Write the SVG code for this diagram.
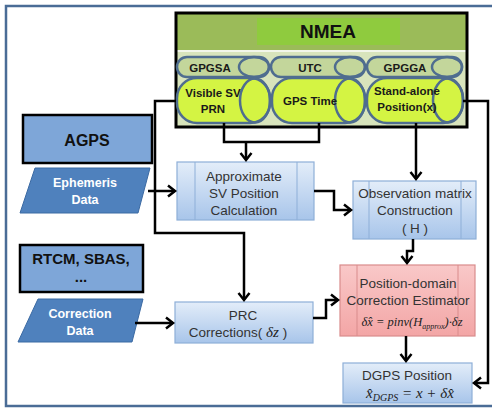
<svg xmlns="http://www.w3.org/2000/svg" width="492" height="408" viewBox="0 0 492 408">
<defs>
<linearGradient id="gBlue" x1="0" y1="0" x2="0" y2="1">
<stop offset="0" stop-color="#e3edf9"/><stop offset="1" stop-color="#a8c5ea"/>
</linearGradient>
<linearGradient id="gRed" x1="0" y1="0" x2="0" y2="1">
<stop offset="0" stop-color="#f9c8c8"/><stop offset="1" stop-color="#f3a6a6"/>
</linearGradient>
<marker id="arr" markerUnits="userSpaceOnUse" markerWidth="14" markerHeight="14" refX="9" refY="7" orient="auto">
<path d="M2,1.5 L9,7 L2,12.5" fill="none" stroke="#000" stroke-width="2.5"/>
</marker>
<style>
.frame{fill:#fff;stroke:#4a6c96;stroke-width:2.5}
.conn{fill:none;stroke:#000;stroke-width:2.5}
.sm{fill:#c3d69b;stroke:#4f6d8f;stroke-width:2.5}
.big{fill:#d4f443;stroke:#4f6d8f;stroke-width:2.5}
.ell{fill:none;stroke:#4f6d8f;stroke-width:2.5}
.pilltxt{font-family:"Liberation Sans",Arial,sans-serif;font-weight:bold;font-size:11.5px;fill:#1a1a1a;text-anchor:middle}
.blk{fill:#7ea6d8;stroke:#000;stroke-width:2.5}
.blktxt{font-family:"Liberation Sans",Arial,sans-serif;font-weight:bold;fill:#111;text-anchor:middle}
.para{fill:#4f81bd;stroke:#3b6aa3;stroke-width:1}
.paratxt{font-family:"Liberation Sans",Arial,sans-serif;font-weight:bold;font-size:12.5px;fill:#fff;text-anchor:middle}
.pbox{fill:url(#gBlue);stroke:#8eafd8;stroke-width:1.2}
.rbox{fill:url(#gRed);stroke:#d98c8c;stroke-width:1.2}
.inl{stroke:#8eafd8;stroke-width:1}
.inr{stroke:#d98c8c;stroke-width:1}
.ptxt{font-family:"Liberation Sans",Arial,sans-serif;font-size:13.5px;fill:#333;text-anchor:middle}
.math{font-family:"Liberation Serif","Times New Roman",serif;font-style:italic;fill:#222}
</style>
</defs>
<rect class="frame" x="6" y="6" width="496" height="400"/>

<g id="nmea">
<rect x="176" y="13" width="291" height="114" fill="#d8e4bc"/>
<rect x="176" y="13" width="291" height="37" fill="#9bbb59"/>
<rect x="176" y="50" width="291" height="2" fill="#f2f6ea"/>
<rect x="257" y="18" width="143" height="27" fill="#8fcb3e"/>
<text x="328" y="38" class="blktxt" font-size="19">NMEA</text>
<rect x="176" y="13" width="291" height="114" fill="none" stroke="#000" stroke-width="3"/>
</g>

<g id="gpgsa">
<rect class="sm" x="177" y="57" width="92" height="20" rx="10"/>
<ellipse class="ell" cx="254" cy="67" rx="15" ry="10"/>
<text x="210" y="71.5" class="pilltxt">GPGSA</text>
</g>
<g id="utc">
<rect class="sm" x="271" y="57" width="94" height="20" rx="10"/>
<ellipse class="ell" cx="350" cy="67" rx="15" ry="10"/>
<text x="310" y="71.5" class="pilltxt">UTC</text>
</g>
<g id="gpgga">
<rect class="sm" x="367" y="57" width="95" height="20" rx="10"/>
<ellipse class="ell" cx="447" cy="67" rx="15" ry="10"/>
<text x="405" y="71.5" class="pilltxt">GPGGA</text>
</g>

<g id="visible">
<rect class="big" x="177" y="78" width="93" height="45" rx="20"/>
<ellipse class="ell" cx="255" cy="100.5" rx="15" ry="22"/>
<text x="213" y="97" class="pilltxt">Visible SV</text>
<text x="213" y="113" class="pilltxt">PRN</text>
</g>
<g id="gpstime">
<rect class="big" x="272" y="78" width="93" height="45" rx="20"/>
<ellipse class="ell" cx="350" cy="100.5" rx="15" ry="22"/>
<text x="310" y="105" class="pilltxt">GPS Time</text>
</g>
<g id="standalone">
<rect class="big" x="367" y="78" width="96" height="45" rx="20"/>
<ellipse class="ell" cx="448" cy="100.5" rx="15" ry="22"/>
<text x="407" y="95" class="pilltxt">Stand-alone</text>
<text x="407" y="111" class="pilltxt">Position(x)</text>
</g>

<g id="agps">
<rect class="blk" x="23" y="115" width="129" height="48"/>
<text x="87" y="146" class="blktxt" font-size="16">AGPS</text>
</g>
<g id="ephemeris">
<polygon class="para" points="35,168 150,168 138,213 20,213"/>
<text x="85" y="187" class="paratxt">Ephemeris</text>
<text x="85" y="204" class="paratxt">Data</text>
</g>
<g id="rtcm">
<rect class="blk" x="20" y="245" width="123" height="47"/>
<text x="81" y="264" class="blktxt" font-size="15">RTCM, SBAS,</text>
<text x="81" y="282" class="blktxt" font-size="15">...</text>
</g>
<g id="correction">
<polygon class="para" points="38,299 143,299 132,342 18,342"/>
<text x="80" y="318" class="paratxt">Correction</text>
<text x="80" y="335" class="paratxt">Data</text>
</g>

<g id="approx">
<rect class="pbox" x="177" y="162" width="137" height="58"/>
<line class="inl" x1="195" y1="162" x2="195" y2="220"/>
<line class="inl" x1="297" y1="162" x2="297" y2="220"/>
<text x="244" y="181" class="ptxt">Approximate</text>
<text x="244" y="198" class="ptxt">SV Position</text>
<text x="244" y="215" class="ptxt">Calculation</text>
</g>
<g id="obs">
<rect class="pbox" x="353" y="181" width="123" height="58"/>
<line class="inl" x1="369" y1="181" x2="369" y2="239"/>
<line class="inl" x1="461" y1="181" x2="461" y2="239"/>
<text x="415" y="198" class="ptxt">Observation matrix</text>
<text x="415" y="215" class="ptxt">Construction</text>
<text x="415" y="233" class="ptxt">( H )</text>
</g>
<g id="prc">
<rect class="pbox" x="175" y="302" width="138" height="41"/>
<text x="243" y="320" class="ptxt">PRC</text>
<text x="238" y="337" class="ptxt">Corrections( <tspan class="math" font-size="15">δz</tspan> )</text>
</g>
<g id="estimator">
<rect class="rbox" x="340" y="265" width="135" height="71"/>
<line class="inr" x1="357" y1="265" x2="357" y2="336"/>
<line class="inr" x1="458" y1="265" x2="458" y2="336"/>
<text x="408" y="288" class="ptxt">Position-domain</text>
<text x="408" y="305" class="ptxt">Correction Estimator</text>
<text x="412" y="326" class="math" font-size="12.5" text-anchor="middle">δx̂ = pinv(H<tspan font-size="8" dy="3">approx</tspan><tspan dy="-3">)·δz</tspan></text>
</g>
<g id="dgps">
<rect class="pbox" x="343" y="363" width="129" height="40"/>
<text x="407" y="380" class="ptxt">DGPS Position</text>
<text x="410" y="398" class="math" font-size="15" text-anchor="middle">x̂<tspan font-size="10" dy="3">DGPS</tspan><tspan dy="-3"> = x + δx̂</tspan></text>
</g>

<g id="connectors">
<path class="conn" d="M176,101 H155 V233 H244 V300" marker-end="url(#arr)"/>
<path class="conn" d="M224,123 V142 H319 V123"/>
<path class="conn" d="M246,142 V160" marker-end="url(#arr)"/>
<path class="conn" d="M416,123 V179" marker-end="url(#arr)"/>
<path class="conn" d="M463,101 H488 V383 H474" marker-end="url(#arr)"/>
<path class="conn" d="M148,191 H175" marker-end="url(#arr)"/>
<path class="conn" d="M314,191 H334 V210 H351" marker-end="url(#arr)"/>
<path class="conn" d="M413,239 V251 H407 V263" marker-end="url(#arr)"/>
<path class="conn" d="M135,323 H173" marker-end="url(#arr)"/>
<path class="conn" d="M313,318 H326 V300 H338" marker-end="url(#arr)"/>
<path class="conn" d="M406,336 V361" marker-end="url(#arr)"/>
</g>
</svg>
